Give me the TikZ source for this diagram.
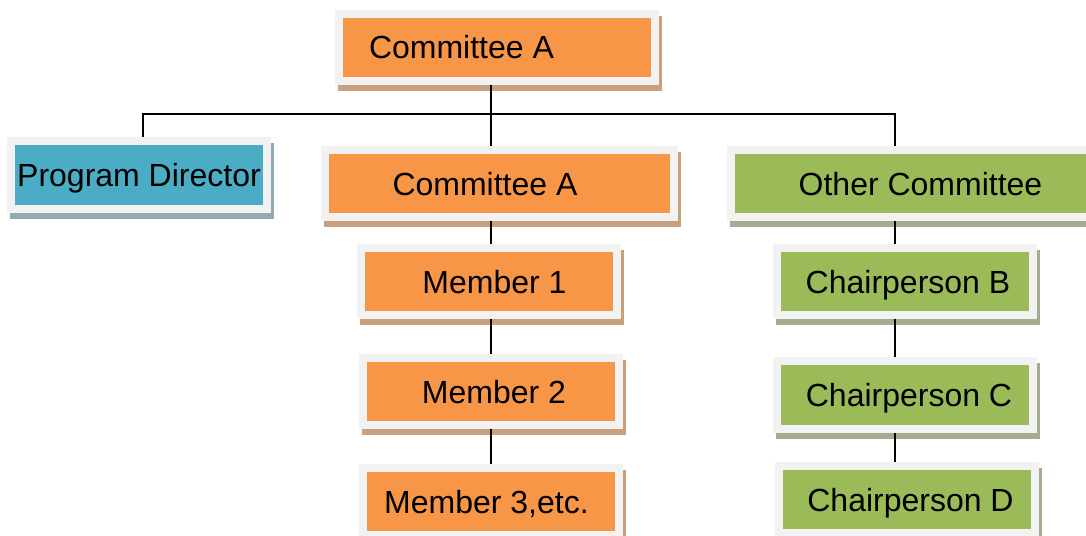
\documentclass[tikz,border=0pt]{standalone}
\usepackage{fontspec}
\setmainfont{Liberation Sans}
\usepackage{tikz}
\usetikzlibrary{shadows, positioning}

\definecolor{framegray}{HTML}{F2F2F2}
\definecolor{unitorange}{HTML}{F79646}
\definecolor{unitgreen}{HTML}{9BBB59}
\definecolor{unitblue}{HTML}{4BACC6}
\definecolor{shadeorange}{HTML}{C9A07E}
\definecolor{shadegreen}{HTML}{A3AC90}
\definecolor{shadeblue}{HTML}{93AAB3}

\tikzset{
    unit/.style={rectangle, inner sep=0pt, fill=framegray,
        minimum width=264pt, minimum height=75pt,
        text height=23pt, text depth=0pt,
        font=\fontsize{32}{38}\selectfont},
    inset/.style={path picture={
        \fill[#1] ([shift={(8pt,-8pt)}]path picture bounding box.north west)
            rectangle ([shift={(-8pt,8pt)}]path picture bounding box.south east);}},
    shade/.style={drop shadow={shadow xshift=3pt, shadow yshift=-6pt,
        fill=#1, opacity=1}},
    orangeunit/.style={unit, inset=unitorange, shade=shadeorange},
    greenunit/.style={unit, inset=unitgreen, shade=shadegreen},
    blueunit/.style={unit, inset=unitblue, shade=shadeblue},
    link/.style={line width=2pt}
}

\begin{document}
\begin{tikzpicture}[x=1pt, y=-1pt]
    \useasboundingbox (0,0) rectangle (1086,535);

    % Top of the chart
    \node[orangeunit, minimum width=324pt] (top) at (497,47.5) {Committee A\hspace*{71pt}};

    % Second row
    \node[blueunit, minimum height=76pt] (director) at (139,175) {Program Director};
    \node[orangeunit, minimum width=357pt] (comA) at (499.5,183.5) {Committee A\hspace*{29pt}};
    \node[greenunit, minimum width=387pt] (other) at (920.5,183.5) {Other Committee};

    % Members of committee A
    \node[orangeunit] (mem1) at (489,281.5) {\hspace*{11pt}Member 1};
    \node[orangeunit] (mem2) at (491,391.5) {\hspace*{6pt}Member 2};
    \node[orangeunit] (mem3) at (491,501.5) {Member 3,etc.\hspace*{9pt}};

    % Chairpersons of the other committee
    \node[greenunit] (chairB) at (905,281.5) {\hspace*{6pt}Chairperson B};
    \node[greenunit, minimum height=76pt] (chairC) at (905,395) {\hspace*{8pt}Chairperson C};
    \node[greenunit] (chairD) at (906.5,499.5) {\hspace*{8pt}Chairperson D};

    % Bus line
    \coordinate (busL) at (143,113.5);
    \coordinate (busM) at (491,113.5);
    \coordinate (busR) at (895,113.5);

    \draw[link] (busL |- director.north) -- (busL) -- (busR) -- (busR |- other.north);
    \draw[link] (busM |- top.south) -- (busM |- comA.north);

    % Chains below each committee
    \draw[link] (busM |- comA.south) -- (busM |- mem1.north);
    \draw[link] (busM |- mem1.south) -- (busM |- mem2.north);
    \draw[link] (busM |- mem2.south) -- (busM |- mem3.north);
    \draw[link] (busR |- other.south) -- (busR |- chairB.north);
    \draw[link] (busR |- chairB.south) -- (busR |- chairC.north);
    \draw[link] (busR |- chairC.south) -- (busR |- chairD.north);

\end{tikzpicture}
\end{document}
